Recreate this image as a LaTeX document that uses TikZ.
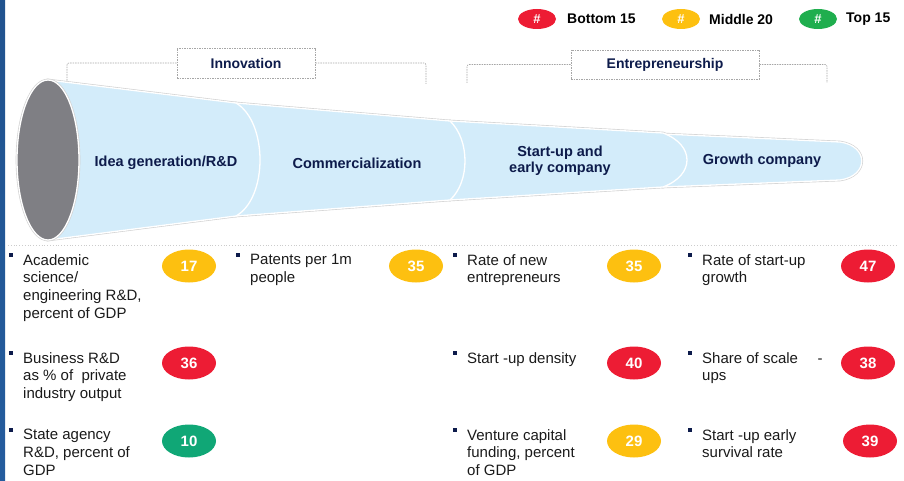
\documentclass[tikz,border=0pt]{standalone}
\usepackage{fontspec}
\setmainfont{Liberation Sans}
\usetikzlibrary{shapes.geometric}

\definecolor{navytxt}{HTML}{0D1B4B}
\definecolor{bodytxt}{HTML}{1A1A1A}
\definecolor{funblue}{HTML}{D3ECFA}
\definecolor{capgray}{HTML}{7F7F84}
\definecolor{botred}{HTML}{ED1C34}
\definecolor{midyel}{HTML}{FDC010}
\definecolor{topgrn}{HTML}{10A776}
\definecolor{leggrn}{HTML}{1FAE4E}
\definecolor{edgeblue}{HTML}{245C9E}

\begin{document}
\begin{tikzpicture}[
    x=1pt, y=-1pt,
    stage/.style={font=\fontsize{14.5}{16.5}\selectfont\bfseries, text=navytxt, align=center},
    grpbox/.style={draw=gray!70, dash pattern=on 1.5pt off 1pt, line width=0.6pt,
        font=\fontsize{14}{16}\selectfont\bfseries, text=navytxt, inner sep=0pt},
    bracket/.style={draw=gray!70, dash pattern=on 1.5pt off 1pt, line width=0.6pt, rounded corners=2pt},
    seg/.style={fill=funblue, draw=white, line width=1.3pt},
    segshadow/.style={draw=gray!35, line width=2.6pt},
    badge/.style={ellipse, minimum width=54pt, minimum height=33pt, inner sep=0pt,
        text=white, font=\fontsize{15}{17}\selectfont\bfseries},
    legdot/.style={ellipse, minimum width=38pt, minimum height=20pt, inner sep=0pt,
        text=white, font=\fontsize{13}{15}\selectfont\bfseries},
    legtxt/.style={anchor=west, inner sep=0pt, font=\fontsize{14}{16}\selectfont\bfseries, text=black},
    bullet/.style={rectangle, fill=navytxt, minimum size=4.5pt, inner sep=0pt},
    item/.style={anchor=north west, inner sep=0pt, align=left, text=bodytxt,
        font=\fontsize{15}{17.7}\selectfont}
]
\useasboundingbox (0,0) rectangle (904,481);

% Left edge strip
\shade[top color=edgeblue!90!black, bottom color=edgeblue] (0,0) rectangle (5,481);

% Legend
\node[legdot, fill=botred] (lgb) at (537,19) {\#};
\node[legtxt] (lgbt) at (567,19) {Bottom 15};
\node[legdot, fill=midyel] (lgm) at (681,19) {\#};
\node[legtxt] (lgmt) at (709,19) {Middle 20};
\node[legdot, fill=leggrn] (lgt) at (818,19) {\#};
\node[legtxt] (lgtt) at (846,19) {Top 15};

% Group brackets
\node[grpbox, minimum width=138pt, minimum height=30pt] (inno) at (246,63) {Innovation};
\coordinate (innoL) at (67,83);
\coordinate (innoR) at (426,84);
\draw[bracket] (inno.west) -| (innoL);
\draw[bracket] (inno.east) -| (innoR);

\node[grpbox, minimum width=188pt, minimum height=29pt] (entr) at (665,64.5) {Entrepreneurship};
\coordinate (entrL) at (467,83);
\coordinate (entrR) at (827,83);
\draw[bracket] (entr.west) -| (entrL);
\draw[bracket] (entr.east) -| (entrR);

% Funnel shadow
\draw[segshadow] (663,134) -- (840,142) .. controls (869,146) and (869,176) .. (840,180) -- (663,187) -- cycle;
\draw[segshadow] (450,121) -- (663,133) .. controls (695,145) and (695,175) .. (663,187) -- (450,200) -- cycle;
\draw[segshadow] (236,103) -- (450,121) .. controls (470,140) and (470,182) .. (450,200) -- (236,216) -- cycle;
\draw[segshadow] (48,80) -- (236,103) .. controls (268,122) and (268,198) .. (236,216) -- (48,240) -- cycle;

% Funnel segments, right to left
\filldraw[seg] (663,134) -- (840,142) .. controls (869,146) and (869,176) .. (840,180) -- (663,187) -- cycle;
\filldraw[seg] (450,121) -- (663,133) .. controls (695,145) and (695,175) .. (663,187) -- (450,200) -- cycle;
\filldraw[seg] (236,103) -- (450,121) .. controls (470,140) and (470,182) .. (450,200) -- (236,216) -- cycle;
\filldraw[seg] (48,80) -- (236,103) .. controls (268,122) and (268,198) .. (236,216) -- (48,240) -- cycle;

% Funnel mouth
\draw[segshadow] (48,160) ellipse [x radius=31, y radius=80];
\filldraw[fill=capgray, draw=white, line width=1.3pt] (48,160) ellipse [x radius=31, y radius=80];

% Stage labels
\node[stage] (idea) at (166,163) {Idea generation/R\&D};
\node[stage] (comm) at (357,163) {Commercialization};
\node[stage] (start) at (560,161) {Start-up and\\early company};
\node[stage] (grow) at (762,161) {Growth company};

% Separator
\draw[gray!40, dotted, line width=0.8pt] (8,245) -- (896,245);

% Indicator texts
\foreach \nm/\px/\py/\txt in {
    a1/23/265/{Academic\\science/\\engineering R\&D,\\percent of GDP},
    a2/23/363/{Business R\&D\\as \% of\ \ private\\industry output},
    a3/23/440/{State agency\\R\&D, percent of\\GDP},
    b1/250/265/{Patents per 1m\\people},
    c1/467/265/{Rate of new\\entrepreneurs},
    c2/467/363/{Start -up density},
    c3/467/440/{Venture capital\\funding, percent\\of GDP},
    d1/702/265/{Rate of start-up\\growth},
    d2/702/363/{Share of scale\hspace{1.3em}-\\ups},
    d3/702/440/{Start -up early\\survival rate}} {
    \node[bullet] (\nm-dot) at (\px-12,\py-10) {};
    \node[item] (\nm) at (\px,\py-11) {\txt};
}

% Rank badges
\foreach \nm/\px/\py/\col/\val in {
    ra1/189/266/midyel/17, ra2/189/363/botred/36, ra3/189/441/topgrn/10,
    rb1/416/266/midyel/35,
    rc1/634/266/midyel/35, rc2/634/363/botred/40, rc3/634/441/midyel/29,
    rd1/868/266/botred/47, rd2/868/363/botred/38, rd3/870/441/botred/39} {
    \node[badge, fill=\col] (\nm) at (\px,\py) {\val};
}
\end{tikzpicture}
\end{document}
